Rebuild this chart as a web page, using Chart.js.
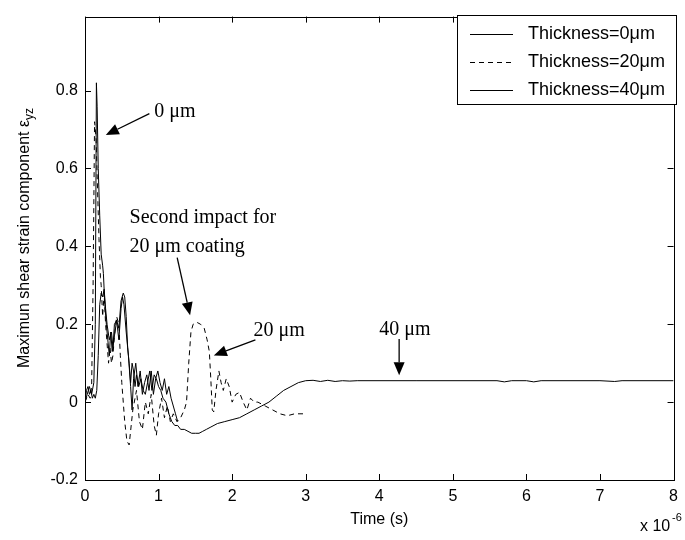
<!DOCTYPE html>
<html>
<head>
<meta charset="utf-8">
<script src="https://cdn.jsdelivr.net/npm/chart.js@4/dist/chart.umd.min.js"></script>
<style>
  html, body { margin: 0; padding: 0; background: #fff; }
  #wrap { width: 685px; height: 540px; position: relative; }
</style>
</head>
<body>
<div id="wrap"><canvas id="c" width="685" height="540"></canvas></div>
<script>
// Time in microseconds (axis carries the x 10^-6 multiplier)
const xTicks = [0, 1, 2, 3, 4, 5, 6, 7, 8];
const yTicks = [-0.2, 0, 0.2, 0.4, 0.6, 0.8];

const seriesLabels = ['Thickness=0\u03bcm', 'Thickness=20\u03bcm', 'Thickness=40\u03bcm'];

// Thickness = 0 um
const time0 = [0, 0.03, 0.06, 0.09, 0.12, 0.14, 0.155, 0.165, 0.18, 0.2, 0.22, 0.24, 0.25, 0.27, 0.29, 0.31, 0.33, 0.35, 0.37, 0.40, 0.43, 0.46, 0.49, 0.51, 0.53, 0.56, 0.59, 0.62, 0.64, 0.66, 0.69, 0.72, 0.75, 0.78, 0.81, 0.84, 0.87, 0.90, 0.93, 0.96, 0.99, 1.02, 1.05, 1.08, 1.11, 1.14, 1.17, 1.20, 1.23, 1.26];
const strain0 = [0, 0.02, 0.04, 0.02, 0.05, 0.2, 0.82, 0.76, 0.6, 0.48, 0.38, 0.35, 0.33, 0.25, 0.2, 0.16, 0.12, 0.18, 0.13, 0.17, 0.21, 0.16, 0.24, 0.27, 0.25, 0.18, 0.12, 0.04, -0.02, 0.06, 0.10, 0.04, 0.08, 0.02, 0.05, 0.07, 0.03, 0.08, 0.02, 0.06, 0.08, 0.05, 0.03, 0.06, 0.02, 0.04, 0.01, -0.01, -0.03, -0.05];

// Thickness = 20 um
const time20 = [0, 0.04, 0.07, 0.09, 0.11, 0.13, 0.15, 0.17, 0.19, 0.21, 0.22, 0.24, 0.26, 0.28, 0.30, 0.32, 0.34, 0.36, 0.38, 0.40, 0.43, 0.46, 0.48, 0.50, 0.52, 0.54, 0.57, 0.60, 0.65, 0.70, 0.74, 0.78, 0.82, 0.86, 0.90, 0.94, 0.97, 1.00, 1.04, 1.08, 1.12, 1.16, 1.20, 1.25, 1.30, 1.35, 1.38, 1.41, 1.44, 1.47, 1.52, 1.57, 1.62, 1.66, 1.69, 1.71, 1.73, 1.75, 1.78, 1.82, 1.85, 1.88, 1.92, 1.96, 2.00, 2.05, 2.10, 2.15, 2.20, 2.25, 2.30, 2.35, 2.45, 2.55, 2.65, 2.75, 2.85, 2.95, 3.00];
const strain20 = [0, 0.02, 0.01, 0.04, 0.30, 0.72, 0.68, 0.55, 0.42, 0.32, 0.30, 0.22, 0.28, 0.2, 0.15, 0.10, 0.14, 0.10, 0.12, 0.17, 0.22, 0.20, 0.12, 0.05, 0.0, -0.05, -0.10, -0.11, -0.02, 0.03, -0.05, -0.07, 0.0, -0.03, 0.02, -0.06, -0.085, -0.03, 0.01, -0.04, -0.01, -0.05, -0.03, -0.05, -0.04, -0.02, 0.0, 0.10, 0.18, 0.20, 0.205, 0.20, 0.19, 0.16, 0.13, 0.06, -0.02, -0.025, 0.03, 0.08, 0.05, 0.03, 0.06, 0.04, 0.0, 0.02, 0.025, 0.0, -0.02, 0.01, 0.0, 0.0, -0.01, -0.02, -0.03, -0.035, -0.03, -0.03, -0.03];

// Thickness = 40 um
const time40 = [0, 0.02, 0.04, 0.06, 0.08, 0.10, 0.12, 0.14, 0.16, 0.18, 0.20, 0.22, 0.24, 0.26, 0.28, 0.30, 0.33, 0.36, 0.38, 0.40, 0.43, 0.46, 0.49, 0.52, 0.54, 0.56, 0.58, 0.60, 0.62, 0.64, 0.66, 0.68, 0.70, 0.73, 0.76, 0.79, 0.82, 0.85, 0.88, 0.91, 0.94, 0.97, 1.00, 1.03, 1.06, 1.10, 1.14, 1.18, 1.22, 1.26, 1.30, 1.35, 1.40, 1.45, 1.50, 1.55, 1.60, 1.65, 1.70, 1.80, 1.90, 2.00, 2.10, 2.20, 2.30, 2.40, 2.50, 2.60, 2.70, 2.80, 2.90, 3.00, 3.10, 3.20, 3.30, 3.40, 3.50, 3.60, 3.70, 4.50, 5.60, 5.70, 5.80, 6.00, 6.10, 6.20, 7.00, 7.20, 7.30, 8.00];
const strain40 = [0, 0.03, 0.04, 0.02, 0.03, 0.01, 0.02, 0.01, 0.03, 0.12, 0.25, 0.28, 0.27, 0.29, 0.24, 0.20, 0.16, 0.18, 0.14, 0.20, 0.21, 0.19, 0.26, 0.28, 0.27, 0.22, 0.14, 0.10, 0.05, 0.10, 0.08, 0.04, 0.07, 0.04, 0.06, 0.03, 0.02, 0.05, 0.08, 0.03, 0.07, 0.06, 0.04, 0.03, 0.01, 0.0, -0.03, -0.05, -0.06, -0.06, -0.07, -0.07, -0.075, -0.08, -0.08, -0.08, -0.075, -0.07, -0.065, -0.055, -0.05, -0.045, -0.04, -0.03, -0.02, -0.01, 0.0, 0.015, 0.03, 0.04, 0.05, 0.055, 0.056, 0.053, 0.056, 0.053, 0.055, 0.054, 0.055, 0.055, 0.055, 0.052, 0.055, 0.055, 0.052, 0.055, 0.055, 0.053, 0.055, 0.055];

// Text notes with arrows, placed in data units (time in us, strain)
const notes = [
  { lines: ['0 \u03bcm'], at: [0.94, 0.731], from: [0.875, 0.741], to: [0.283, 0.686] },
  { lines: ['Second impact for', '20 \u03bcm coating'], at: [0.606, 0.459], from: [1.253, 0.371], to: [1.428, 0.223] },
  { lines: ['20 \u03bcm'], at: [2.29, 0.17], from: [2.316, 0.16], to: [1.751, 0.12] },
  { lines: ['40 \u03bcm'], at: [4.0, 0.172], from: [4.27, 0.162], to: [4.27, 0.069] }
];

const toPoints = (xs, ys) => xs.map((x, i) => ({ x: x, y: ys[i] }));

const LEFT = 85, RIGHT_PAD = 6, TOP_PAD = 7, BOTTOM_AXIS = 60;
const SANS = '"Liberation Sans", Arial, sans-serif';
const SERIF = '"Liberation Serif", "Times New Roman", serif';

// Box frame, inward ticks on all four sides, legend, axis labels and notes
const framePlugin = {
  id: 'frame',
  afterDraw(chart) {
    const { ctx, chartArea: a, scales } = chart;
    const xs = scales.x, ys = scales.y;
    ctx.save();
    ctx.strokeStyle = '#000';
    ctx.lineWidth = 1;
    ctx.strokeRect(Math.round(a.left) + 0.5, Math.round(a.top) + 0.5, Math.round(a.right - a.left), Math.round(a.bottom - a.top));
    const tl = 6;
    ctx.beginPath();
    xTicks.forEach(v => {
      const px = Math.round(xs.getPixelForValue(v)) + 0.5;
      ctx.moveTo(px, a.bottom); ctx.lineTo(px, a.bottom - tl);
      ctx.moveTo(px, a.top); ctx.lineTo(px, a.top + tl);
    });
    yTicks.forEach(v => {
      const py = Math.round(ys.getPixelForValue(v)) + 0.5;
      ctx.moveTo(a.left, py); ctx.lineTo(a.left + tl, py);
      ctx.moveTo(a.right, py); ctx.lineTo(a.right - tl, py);
    });
    ctx.stroke();

    // legend
    const lx = 457.5, ly = 15.5, lw = 219, lh = 89;
    ctx.fillStyle = '#fff';
    ctx.fillRect(lx, ly, lw, lh);
    ctx.strokeRect(lx, ly, lw, lh);
    ctx.font = '18px ' + SANS;
    ctx.textBaseline = 'middle';
    ctx.textAlign = 'left';
    chart.data.datasets.forEach((ds, i) => {
      const ry = Math.round(34 + i * 28) + 0.5;
      ctx.strokeStyle = ds.borderColor;
      ctx.lineWidth = ds.borderWidth;
      ctx.setLineDash(ds.borderDash || []);
      ctx.beginPath();
      ctx.moveTo(470, ry); ctx.lineTo(513, ry);
      ctx.stroke();
      ctx.setLineDash([]);
      ctx.fillStyle = '#000';
      ctx.fillText(ds.label, 528, ry);
    });

    // axis titles
    ctx.fillStyle = '#000';
    ctx.font = '16px ' + SANS;
    ctx.textAlign = 'center';
    ctx.textBaseline = 'alphabetic';
    ctx.fillText('Time (s)', (a.left + a.right) / 2, 524);
    ctx.textAlign = 'left';
    ctx.fillText('x 10', 640, 531);
    ctx.font = '11px ' + SANS;
    ctx.fillText('-6', 672, 521);

    ctx.save();
    ctx.translate(29, 238);
    ctx.rotate(-Math.PI / 2);
    const main = 'Maximun shear strain component \u03b5';
    const sub = 'yz';
    ctx.font = '16px ' + SANS;
    const wMain = ctx.measureText(main).width;
    ctx.font = '12px ' + SANS;
    const wSub = ctx.measureText(sub).width;
    const start = -(wMain + wSub) / 2;
    ctx.font = '16px ' + SANS;
    ctx.textAlign = 'left';
    ctx.fillText(main, start, 0);
    ctx.font = '12px ' + SANS;
    ctx.fillText(sub, start + wMain, 4);
    ctx.restore();

    // notes with arrows
    ctx.font = '20px ' + SERIF;
    ctx.textAlign = 'left';
    ctx.textBaseline = 'alphabetic';
    ctx.strokeStyle = '#000';
    ctx.fillStyle = '#000';
    ctx.lineWidth = 1.3;
    notes.forEach(n => {
      const tx = xs.getPixelForValue(n.at[0]), ty = ys.getPixelForValue(n.at[1]);
      n.lines.forEach((s, k) => ctx.fillText(s, tx, ty + k * 29));
      const x1 = xs.getPixelForValue(n.from[0]), y1 = ys.getPixelForValue(n.from[1]);
      const x2 = xs.getPixelForValue(n.to[0]), y2 = ys.getPixelForValue(n.to[1]);
      const ang = Math.atan2(y2 - y1, x2 - x1);
      const hl = 13, hw = 5.5;
      const bx = x2 - hl * Math.cos(ang), by = y2 - hl * Math.sin(ang);
      ctx.beginPath();
      ctx.moveTo(x1, y1); ctx.lineTo(bx, by);
      ctx.stroke();
      ctx.beginPath();
      ctx.moveTo(x2, y2);
      ctx.lineTo(bx + hw * Math.sin(ang), by - hw * Math.cos(ang));
      ctx.lineTo(bx - hw * Math.sin(ang), by + hw * Math.cos(ang));
      ctx.closePath();
      ctx.fill();
    });
    ctx.restore();
  }
};

const lineStyle = { borderColor: '#000', borderWidth: 1, pointRadius: 0, showLine: true, tension: 0, fill: false };

new Chart(document.getElementById('c'), {
  type: 'scatter',
  data: {
    datasets: [
      Object.assign({ label: seriesLabels[0], data: toPoints(time0, strain0) }, lineStyle),
      Object.assign({ label: seriesLabels[1], data: toPoints(time20, strain20), borderDash: [5, 4] }, lineStyle),
      Object.assign({ label: seriesLabels[2], data: toPoints(time40, strain40) }, lineStyle)
    ]
  },
  options: {
    responsive: false,
    animation: false,
    events: [],
    layout: { padding: { left: 0, right: RIGHT_PAD, top: TOP_PAD, bottom: 0 } },
    plugins: { legend: { display: false }, tooltip: { enabled: false } },
    scales: {
      x: {
        type: 'linear', min: 0, max: 8,
        afterFit(s) { s.height = BOTTOM_AXIS; },
        afterBuildTicks(s) { s.ticks = xTicks.map(v => ({ value: v })); },
        grid: { display: false, drawTicks: false },
        border: { display: false },
        ticks: { color: '#000', font: { family: SANS, size: 16 }, padding: 7, maxRotation: 0, callback: v => String(v) }
      },
      y: {
        type: 'linear', min: -0.2, max: 0.99,
        afterFit(s) { s.width = LEFT; },
        afterBuildTicks(s) { s.ticks = yTicks.map(v => ({ value: v })); },
        grid: { display: false, drawTicks: false },
        border: { display: false },
        ticks: { color: '#000', font: { family: SANS, size: 16 }, padding: 7, callback: v => String(Number(v.toFixed(1))) }
      }
    }
  },
  plugins: [framePlugin]
});
</script>
</body>
</html>
